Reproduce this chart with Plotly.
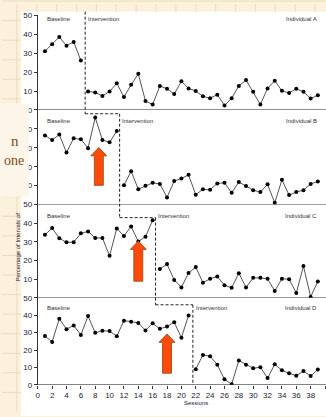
import plotly.graph_objects as go

W, H = 326, 417

sessions = list(range(1, 40))
phase_start = [7, 12, 17, 22]          # first intervention session per individual
phase_line = [6.6, 11.4, 16.4, 21.6]   # dashed phase-change position
step_level = [52, 48, 43, 46]          # where the dashed step turns (panel units)
arrow_session = [None, 8.5, 14, 18]

pct_a = [31.1, 34.7, 38.6, 34.0, 36.0, 26.2, 9.8, 9.3, 7.4, 9.8, 14.1, 6.9, 13.3,
         19.1, 4.7, 2.9, 12.7, 11.2, 8.4, 15.2, 11.4, 10.0, 7.2, 6.2, 8.1, 2.4,
         6.2, 12.7, 15.8, 9.6, 2.9, 11.4, 15.5, 10.1, 9.0, 11.2, 9.6, 6.0, 7.8]
pct_b = [36.5, 34.1, 37.0, 27.5, 35.0, 34.5, 29.8, 46.0, 34.1, 32.9, 38.9, 10.2,
         17.6, 8.1, 10.0, 11.5, 10.9, 3.8, 12.4, 13.8, 15.7, 5.2, 8.1, 7.8, 11.2,
         11.5, 6.2, 11.9, 9.8, 7.6, 6.6, 10.7, 0.9, 13.1, 5.0, 6.6, 7.6, 10.9, 12.2]
pct_c = [33.8, 37.4, 31.9, 29.8, 29.8, 34.6, 35.6, 32.1, 32.1, 22.5, 37.2, 33.2,
         38.2, 30.2, 32.8, 41.6, 15.4, 18.1, 9.6, 5.6, 13.3, 16.5, 8.1, 10.2, 11.4,
         6.7, 5.4, 13.2, 5.6, 10.7, 10.7, 10.2, 3.7, 10.2, 10.0, 2.6, 17.0, 0.5, 8.8]
pct_d = [28.1, 24.7, 38.0, 32.0, 34.1, 28.7, 39.5, 29.9, 31.1, 30.9, 27.9, 36.9,
         36.3, 35.6, 31.3, 35.4, 32.2, 33.5, 36.0, 27.1, 39.9, 9.0, 17.2, 16.5,
         11.6, 3.2, 0.4, 14.0, 11.6, 9.6, 10.1, 3.9, 11.8, 8.4, 6.7, 5.2, 8.0, 5.1, 8.8]

series = [pct_a, pct_b, pct_c, pct_d]
names = ["Individual A", "Individual B", "Individual C", "Individual D"]
y_ticks = [0, 10, 20, 30, 40, 50]
x_ticks = list(range(0, 42, 2))

# pixel geometry of the panels (top of 0..50 scale -> bottom)
panel_px = [(11.7, 108.3), (108.3, 205.0), (205.0, 300.3), (300.3, 389.3)]
x0_px, x40_px = 36.0, 325.0
px_per_unit = (x40_px - x0_px) / 40.0
x_max = (W - x0_px) / px_per_unit

AXIS = "#333333"
LABEL = "#22223a"
FONT = "Liberation Sans, Arial, sans-serif"
SERIF = "Liberation Serif, Times New Roman, serif"


def px(v):
    return v / W


def py(v):
    return 1 - v / H


def panel_paper(i, v):
    top, bot = panel_px[i]
    return py(bot - (bot - top) * v / 50.0)


fig = go.Figure()
shapes = []
annotations = []

# slide backdrop: beige squared paper behind the pasted chart
BEIGE = "#fbf1dc"
GRID = "#eadcbc"
for gy in range(-3, H, 20):
    shapes.append(dict(type="line", xref="paper", yref="paper", x0=0, x1=1,
                       y0=py(gy), y1=py(gy), line=dict(color=GRID, width=1), layer="below"))
for gx in range(15, W, 20):
    shapes.append(dict(type="line", xref="paper", yref="paper", x0=px(gx), x1=px(gx),
                       y0=0, y1=1, line=dict(color=GRID, width=1), layer="below"))
# chart picture (white)
shapes.append(dict(type="rect", xref="paper", yref="paper", x0=px(19), x1=1.01,
                   y0=-0.01, y1=py(8), fillcolor="white", line_width=0, layer="below"))

for i, vals in enumerate(series):
    ax = "" if i == 0 else str(i + 1)
    ps = phase_start[i]
    base_x = [s for s in sessions if s < ps]
    base_y = [v for s, v in zip(sessions, vals) if s < ps]
    int_x = [s for s in sessions if s >= ps]
    int_y = [v for s, v in zip(sessions, vals) if s >= ps]
    for xs, ys in ((base_x, base_y), (int_x, int_y)):
        fig.add_trace(go.Scatter(
            x=xs, y=ys, mode="lines+markers", xaxis="x", yaxis="y" + ax,
            line=dict(color="#555555", width=1),
            marker=dict(color="black", size=4), showlegend=False, hoverinfo="skip"))
    top, bot = panel_px[i]
    tick_text = [str(t) for t in y_ticks]
    if i < 3:
        tick_text[0] = ""  # the panel below carries the shared 50 label
    fig.layout["yaxis" + ax] = dict(
        domain=[py(bot), py(top)], range=[0, 50], tickvals=y_ticks, ticktext=tick_text,
        ticks="outside", ticklen=3, tickcolor=AXIS, showline=True, linecolor=AXIS,
        linewidth=1, showgrid=False, zeroline=False, anchor="x",
        tickfont=dict(family=FONT, size=8, color=LABEL))

    # panel base line
    shapes.append(dict(type="line", xref="x", yref="y" + ax, x0=0, x1=x_max + 1,
                       y0=0, y1=0, line=dict(color=AXIS, width=1)))

    yl = 48 if i == 0 else 44
    annotations.append(dict(x=1, y=yl, xref="x", yref="y" + ax, text="Baseline",
                            showarrow=False, xanchor="left", yanchor="middle",
                            font=dict(family=FONT, size=6, color="#333")))
    annotations.append(dict(x=phase_line[i] + 0.1, y=yl, xref="x", yref="y" + ax,
                            text="Intervention", showarrow=False, xanchor="left",
                            yanchor="middle", font=dict(family=FONT, size=6, color="#333")))
    annotations.append(dict(x=39.2, y=yl, xref="x", yref="y" + ax, text=names[i],
                            showarrow=False, xanchor="right", yanchor="middle",
                            font=dict(family=FONT, size=6, color="#333")))

# dashed multiple-baseline step
pts = [(phase_line[0], panel_paper(0, step_level[0]))]
for i in range(4):
    if i < 3:
        yturn = panel_paper(i + 1, step_level[i + 1])
        pts.append((phase_line[i], yturn))
        pts.append((phase_line[i + 1], yturn))
    else:
        pts.append((phase_line[i], panel_paper(i, 0)))
for (xa, ya), (xb, yb) in zip(pts[:-1], pts[1:]):
    shapes.append(dict(type="line", xref="x", yref="paper", x0=xa, x1=xb, y0=ya, y1=yb,
                       line=dict(color="#222", width=1, dash="3px,2px")))

# arrows marking the effect on the next individual
arrow_px = {1: (146.7, 185.3), 2: (242.3, 283.3), 3: (337.3, 377.3)}
for i, a in enumerate(arrow_session):
    if a is None:
        continue
    t, b = arrow_px[i]
    hw, sw, hh = 8.0 / px_per_unit, 4.5 / px_per_unit, 8.5
    path = (f"M {a},{py(t)} L {a + hw},{py(t + hh)} L {a + sw},{py(t + hh)} "
            f"L {a + sw},{py(b)} L {a - sw},{py(b)} L {a - sw},{py(t + hh)} "
            f"L {a - hw},{py(t + hh)} Z")
    shapes.append(dict(type="path", xref="x", yref="paper", path=path,
                       fillcolor="#ff4a0a", line=dict(color="#a5551f", width=1)))

# slide text box partly covering the chart's left edge
shapes.append(dict(type="rect", xref="paper", yref="paper", x0=-0.01, x1=px(27),
                   y0=py(197), y1=py(102), fillcolor="#fdf6e8", line_width=0))
annotations.append(dict(x=px(19), y=py(140), xref="paper", yref="paper", text="n",
                        showarrow=False, xanchor="right", yanchor="middle",
                        font=dict(family=SERIF, size=15, color="#7b4a22")))
annotations.append(dict(x=px(0), y=py(160), xref="paper", yref="paper", text="one",
                        showarrow=False, xanchor="left", yanchor="middle",
                        font=dict(family=SERIF, size=14, color="#7b4a22")))

annotations.append(dict(x=22, y=py(413), xref="x", yref="paper", text="Sessions",
                        showarrow=False, font=dict(family=FONT, size=6, color=LABEL)))
annotations.append(dict(x=px(11), y=py(248), xref="paper", yref="paper",
                        text="Percentage of Intervals of", textangle=-90, showarrow=False,
                        font=dict(family=FONT, size=6, color=LABEL)))

fig.update_layout(
    width=W, height=H, margin=dict(l=0, r=0, t=0, b=0),
    paper_bgcolor=BEIGE, plot_bgcolor="rgba(0,0,0,0)",
    xaxis=dict(domain=[x0_px / W, 1], range=[0, x_max], tickvals=x_ticks,
               ticks="outside", ticklen=3, tickcolor=AXIS, showline=False,
               showgrid=False, zeroline=False, anchor="y4",
               tickfont=dict(family=FONT, size=8, color=LABEL)),
    shapes=shapes, annotations=annotations, showlegend=False)

fig.write_html("out.html")
